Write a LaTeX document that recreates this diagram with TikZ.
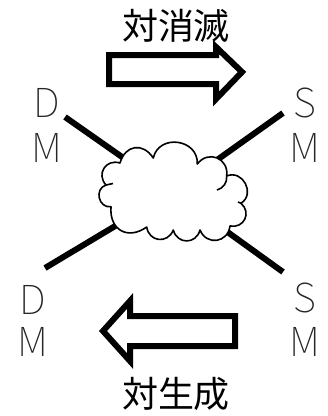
\documentclass[tikz,border=0pt]{standalone}
\usepackage{fontspec}
\setmainfont{Noto Sans CJK JP}
\newfontfamily\lightfont{Noto Sans CJK JP Thin}
\tikzset{
  particle/.style={font=\lightfont\fontsize{40}{40}\selectfont, text=black!85, inner sep=0pt},
  caption/.style={font=\fontsize{36}{36}\selectfont, inner sep=0pt},
  leg/.style={line width=6pt},
  bigarrow/.style={line width=6pt, line join=miter, miter limit=10},
  blob/.style={draw, line width=1.6pt, fill=white, line join=round},
  puff/.style={bend left=#1, looseness=1.45},
  tick/.style={line width=1.6pt}
}
\begin{document}
\begin{tikzpicture}[x=1pt,y=-1pt]
\useasboundingbox (0,0) rectangle (328,416);
% captions
\node[caption] (ann) at (176,26) {対消滅};
\node[caption] (gen) at (176,394) {対生成};
% particle labels
\node[particle] (dm1d) at (47,103) {D};
\node[particle] (dm1m) at (47,148) {M};
\node[particle] (sm1s) at (305,103) {S};
\node[particle] (sm1m) at (305,148) {M};
\node[particle] (dm2d) at (33,300) {D};
\node[particle] (dm2m) at (33,342) {M};
\node[particle] (sm2s) at (305,298) {S};
\node[particle] (sm2m) at (305,342) {M};
% external legs
\coordinate (ul) at (65,117);
\coordinate (ur) at (283,113);
\coordinate (ll) at (45,268);
\coordinate (lr) at (283,272);
\coordinate (c) at (172,192);
\draw[leg] (ul) -- (c);
\draw[leg] (ur) -- (c);
\draw[leg] (ll) -- (c);
\draw[leg] (lr) -- (c);
% interaction blob: puffs between cusps
\coordinate (k1) at (120,163);
\coordinate (k2) at (153.3,158);
\coordinate (k3) at (197.3,164);
\coordinate (k4) at (226.7,176);
\coordinate (k5) at (241,203.3);
\coordinate (k6) at (230,226);
\coordinate (k7) at (200,230);
\coordinate (k8) at (173.3,230);
\coordinate (k9) at (146.7,227);
\coordinate (k10) at (111,206.7);
\coordinate (k11) at (106,185);
\path[blob] (k1) to[puff=65] (k2) to[puff=85] (k3) to[puff=75] (k4)
  to[puff=85] (k5) to[puff=75] (k6) to[puff=75] (k7) to[puff=75] (k8)
  to[puff=75] (k9) to[puff=65] (k10) to[puff=85] (k11) to[puff=75] (k1) -- cycle;
% small inner curls of the puffs
\draw[tick] (k4) to[bend left=40] (217,190);
\draw[tick] (k11) -- (113,183.5);
\draw[tick] (k5) -- (238,202);
% outline arrows
\draw[bigarrow] (109,55) -- (216,55) -- (216,47) -- (242,72) -- (216,99) -- (216,84) -- (109,84) -- cycle;
\draw[bigarrow] (235,316) -- (130,316) -- (130,301) -- (103,331) -- (130,361) -- (130,346) -- (235,346) -- cycle;
\end{tikzpicture}
\end{document}
